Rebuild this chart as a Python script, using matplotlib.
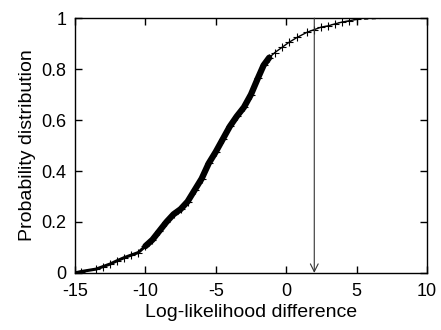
import matplotlib
matplotlib.use("Agg")
import matplotlib.pyplot as plt
import numpy as np

plt.rcParams['font.family'] = ['Liberation Sans', 'DejaVu Sans']

diff = [-15.0, -14.6, -13.5, -13.0, -12.5, -12.0, -11.5, -11.0, -10.5, -10.0,
        -9.5, -9.0, -8.5, -8.0, -7.5, -7.0, -6.5, -6.0, -5.5, -5.0,
        -4.5, -4.0, -3.5, -3.0, -2.5, -2.0, -1.6, -1.2, -0.8, -0.3,
        0.2, 0.8, 1.5, 2.0, 2.5, 3.0, 3.5, 4.0, 4.5, 5.0]
prob = [0.0, 0.005, 0.015, 0.025, 0.035, 0.048, 0.06, 0.07, 0.08, 0.105,
        0.13, 0.165, 0.20, 0.23, 0.25, 0.28, 0.325, 0.37, 0.43, 0.475,
        0.525, 0.575, 0.615, 0.65, 0.70, 0.765, 0.815, 0.845, 0.865, 0.885,
        0.905, 0.925, 0.945, 0.955, 0.965, 0.97, 0.978, 0.985, 0.99, 0.995]
tail_x = [5.0, 7.0]
tail_y = [0.995, 1.0]
observed = 2.0

diff = np.array(diff)
prob = np.array(prob)

fig = plt.figure(figsize=(4.41, 3.30), dpi=100)
ax = fig.add_axes([0.170, 0.173, 0.798, 0.772])

dense = (prob >= 0.1) & (prob <= 0.86)
ax.plot(diff[dense], prob[dense], color='black', lw=4.5, solid_capstyle='round')
low = prob <= 0.11
ax.plot(diff[low], prob[low], color='black', lw=2.2)
ax.plot(diff, prob, color='black', lw=1.0, marker='+', markersize=6, markeredgewidth=0.8)
ax.plot(tail_x, tail_y, color='black', lw=1.0, linestyle=(0, (3, 2.5)))

ax.annotate('', xy=(observed, 0.0), xytext=(observed, 1.0),
            arrowprops=dict(arrowstyle='->', color='#333333', lw=0.8,
                            mutation_scale=14, shrinkA=0, shrinkB=0))

ax.set_xlim(-15, 10)
ax.set_ylim(0, 1)
ax.set_xticks([-15, -10, -5, 0, 5, 10])
ax.set_yticks([0, 0.2, 0.4, 0.6, 0.8, 1])
ax.set_xticklabels(['-15', '-10', '-5', '0', '5', '10'])
ax.set_yticklabels(['0', '0.2', '0.4', '0.6', '0.8', '1'])
ax.tick_params(direction='in', top=True, right=True, length=5, width=1,
               labelsize=13)
ax.tick_params(axis='x', pad=7)
ax.tick_params(axis='y', pad=6)
for s in ax.spines.values():
    s.set_linewidth(1.0)

ax.set_xlabel('Log-likelihood difference', fontsize=14, labelpad=3)
ax.set_ylabel('Probability distribution', fontsize=14, labelpad=4)

fig.savefig('out.png', dpi=100)
